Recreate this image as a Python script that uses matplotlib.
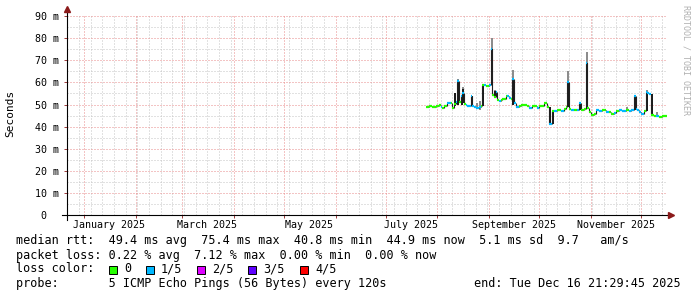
import matplotlib
matplotlib.use("Agg")
import matplotlib.pyplot as plt
import matplotlib.dates as mdates
import matplotlib.transforms as mtrans
import numpy as np
import pandas as pd

# --- data ----------------------------------------------------------------
end_time = pd.Timestamp("2025-12-16 21:29:45")
start_time = end_time - pd.Timedelta(days=360)

dates = [
    "2025-07-25", "2025-07-27", "2025-07-29", "2025-07-31", "2025-08-02", "2025-08-03",
    "2025-08-04", "2025-08-05", "2025-08-07", "2025-08-09", "2025-08-10", "2025-08-11",
    "2025-08-12", "2025-08-13", "2025-08-14", "2025-08-15", "2025-08-16", "2025-08-17",
    "2025-08-18", "2025-08-19", "2025-08-21", "2025-08-22", "2025-08-23", "2025-08-24",
    "2025-08-26", "2025-08-27", "2025-08-28", "2025-08-29", "2025-08-30", "2025-09-01",
    "2025-09-02", "2025-09-03", "2025-09-04", "2025-09-05", "2025-09-06", "2025-09-07",
    "2025-09-08", "2025-09-09", "2025-09-11", "2025-09-12", "2025-09-13", "2025-09-14",
    "2025-09-15", "2025-09-16", "2025-09-17", "2025-09-19", "2025-09-20", "2025-09-22",
    "2025-09-24", "2025-09-25", "2025-09-27", "2025-09-29", "2025-09-30", "2025-10-01",
    "2025-10-02", "2025-10-04", "2025-10-06", "2025-10-07", "2025-10-09", "2025-10-10",
    "2025-10-12", "2025-10-14", "2025-10-16", "2025-10-17", "2025-10-18", "2025-10-19",
    "2025-10-20", "2025-10-22", "2025-10-24", "2025-10-25", "2025-10-26", "2025-10-28",
    "2025-10-29", "2025-10-30", "2025-10-31", "2025-11-01", "2025-11-03", "2025-11-04",
    "2025-11-06", "2025-11-08", "2025-11-10", "2025-11-12", "2025-11-13", "2025-11-15",
    "2025-11-16", "2025-11-18", "2025-11-20", "2025-11-22", "2025-11-24", "2025-11-25",
    "2025-11-27", "2025-11-28", "2025-11-29", "2025-11-30", "2025-12-01", "2025-12-03",
    "2025-12-04", "2025-12-05", "2025-12-06", "2025-12-07", "2025-12-09", "2025-12-10",
    "2025-12-12", "2025-12-14", "2025-12-16",
]
median_ms = [
    48.9, 49.2, 48.8, 49.4, 49.8, 49.0,
    48.6, 49.3, 50.9, 50.7, 48.2, 50.3,
    51.0, 60.5, 51.0, 53.7, 55.0, 50.4,
    50.0, 49.4, 53.7, 49.5, 48.9, 48.6,
    49.0, 49.5, 58.6, 58.8, 58.3, 58.8,
    75.2, 54.5, 53.5, 55.8, 52.2, 51.8,
    52.0, 52.3, 53.8, 54.0, 53.0, 52.6,
    61.6, 50.5, 48.8, 49.5, 49.8, 49.6,
    49.2, 48.5, 49.4, 49.3, 48.6, 49.4,
    49.2, 50.5, 49.0, 41.3, 46.9, 47.2,
    47.7, 47.0, 47.8, 48.8, 60.3, 48.0,
    47.6, 47.3, 47.6, 50.5, 47.5, 48.0,
    68.9, 48.4, 46.6, 45.4, 45.6, 47.3,
    47.0, 47.5, 46.8, 46.4, 45.8, 46.3,
    46.9, 47.3, 46.9, 47.4, 47.2, 47.6,
    53.7, 48.0, 47.5, 46.6, 45.8, 47.0,
    55.5, 55.2, 54.8, 45.2, 44.6, 44.9,
    44.4, 45.0, 44.9,
]
# lost pings out of 5 for each median sample
loss = [
    0, 0, 0, 0, 0, 1,
    0, 0, 1, 0, 0, 0,
    1, 1, 0, 1, 1, 0,
    1, 1, 1, 1, 1, 1,
    1, 0, 0, 1, 0, 1,
    1, 0, 0, 1, 0, 1,
    0, 0, 0, 1, 1, 0,
    1, 1, 1, 0, 0, 0,
    0, 1, 0, 0, 1, 0,
    0, 0, 0, 1, 0, 1,
    0, 1, 0, 0, 1, 0,
    1, 0, 1, 1, 0, 0,
    1, 0, 0, 0, 0, 1,
    1, 0, 1, 0, 0, 1,
    0, 1, 1, 0, 1, 1,
    1, 1, 1, 1, 1, 0,
    1, 1, 1, 0, 0, 1,
    0, 0, 0,
]

# smoke (ping spread): dark part lo..hi, light tip hi..tip
smoke_dates = [
    "2025-08-11", "2025-08-13", "2025-08-15", "2025-08-16", "2025-08-21", "2025-08-24",
    "2025-08-26", "2025-08-28", "2025-09-02", "2025-09-04", "2025-09-15", "2025-10-07",
    "2025-10-09", "2025-10-18", "2025-10-25", "2025-10-29", "2025-11-22", "2025-11-27",
    "2025-12-04", "2025-12-07", "2025-12-10",
]
smoke_lo = [49.5, 49.9, 49.9, 50.6, 50.5, 47.8, 47.6, 49.5, 58.6, 53.0, 50.0, 41.3,
            41.3, 48.8, 47.6, 48.3, 47.2, 47.5, 47.0, 45.2, 44.8]
smoke_hi = [55.2, 60.5, 53.7, 56.8, 53.7, 47.8, 47.6, 58.6, 75.2, 56.0, 61.6, 49.0,
            46.9, 60.3, 50.5, 68.9, 47.2, 53.7, 55.5, 54.8, 44.8]
smoke_tip = [55.2, 61.5, 53.7, 58.0, 53.7, 50.5, 51.5, 58.6, 80.2, 56.5, 65.5, 49.0,
             46.9, 65.1, 50.5, 73.8, 49.0, 54.5, 56.7, 54.8, 46.5]

loss_colors = ["#26ff00", "#00b8ff", "#dd00ff", "#5e00ff", "#ff0000"]
loss_labels = ["0", "1/5", "2/5", "3/5", "4/5"]

label_months = ["2025-01", "2025-03", "2025-05", "2025-07", "2025-09", "2025-11"]
ytick_vals = [0, 10, 20, 30, 40, 50, 60, 70, 80, 90]
ytick_labels = ["0  "] + ["%d m" % v for v in ytick_vals[1:]]

stats_rtt = "median rtt:  49.4 ms avg  75.4 ms max  40.8 ms min  44.9 ms now  5.1 ms sd  9.7   am/s"
stats_loss = "packet loss: 0.22 % avg  7.12 % max  0.00 % min  0.00 % now"
probe_text = "probe:       5 ICMP Echo Pings (56 Bytes) every 120s"
end_text = "end: Tue Dec 16 21:29:45 2025"

# --- figure ---------------------------------------------------------------
mono = "DejaVu Sans Mono"
W, H = 697, 297
fig = plt.figure(figsize=(W / 100, H / 100), dpi=100, facecolor="white")
ax = fig.add_axes([67 / W, (H - 215) / H, 600 / W, 200 / H])
ax.set_facecolor("white")

x = mdates.date2num(pd.to_datetime(dates))
x_end = np.append(x[1:], mdates.date2num(end_time))
vals = np.array(median_ms)

# smoke
sx = mdates.date2num(pd.to_datetime(smoke_dates))
lo = np.array(smoke_lo)
hi = np.array(smoke_hi)
tip = np.array(smoke_tip)
ax.bar(sx, tip - hi, bottom=hi, width=1.2, align="edge", color="#8c8c8c", zorder=3, linewidth=0)
ax.bar(sx, hi - lo, bottom=lo, width=1.2, align="edge", color="#1c1c1c", zorder=3, linewidth=0)

# median line, coloured by loss
ax.vlines(x[1:], vals[:-1], vals[1:], color="#202020", linewidth=0.8, zorder=4)
ax.hlines(vals, x, x_end, colors=[loss_colors[l] for l in loss], linewidth=1.6, zorder=5)

ax.set_xlim(mdates.date2num(start_time), mdates.date2num(end_time))
ax.set_ylim(0, 90.5)

# grid
ax.xaxis.set_major_locator(mdates.MonthLocator())
ax.xaxis.set_minor_locator(mdates.WeekdayLocator(byweekday=mdates.SU))
ax.xaxis.set_major_formatter(plt.NullFormatter())
ax.set_yticks(ytick_vals)
ax.set_yticklabels(ytick_labels, fontfamily=mono, fontsize=7.2)
ax.set_yticks(np.arange(5, 90, 10), minor=True)
ax.grid(which="minor", color="#c4c4c4", linestyle=(0, (1, 2)), linewidth=0.72, zorder=0)
ax.grid(which="major", color="#e88a8a", linestyle=(0, (1, 2)), linewidth=0.72, zorder=1)
ax.set_axisbelow(True)
ax.tick_params(axis="y", which="major", length=2, width=0.72, color="#a04040", pad=3.5)
ax.tick_params(axis="x", which="major", length=2, width=0.72, color="#a04040")
ax.tick_params(which="minor", length=0)

# month labels centred half a month after the month starts
for m in label_months:
    t = pd.Timestamp(m + "-01")
    ax.text(mdates.date2num(t + pd.Timedelta(days=15)), -0.05, t.strftime("%B %Y"),
            transform=mtrans.blended_transform_factory(ax.transData, ax.transAxes),
            ha="center", va="center", fontfamily=mono, fontsize=7.2)

# axes with arrows
for s in ["top", "right", "left", "bottom"]:
    ax.spines[s].set_visible(False)
ax.plot([0, 0], [-0.025, 1.025], color="black", linewidth=0.8, transform=ax.transAxes, clip_on=False, zorder=6)
ax.plot([-0.008, 1.006], [0, 0], color="black", linewidth=0.8, transform=ax.transAxes, clip_on=False, zorder=6)
ax.plot([0], [1.03], marker="^", markersize=4, color="#8b1a1a", transform=ax.transAxes, clip_on=False, zorder=7)
ax.plot([1.007], [0], marker=">", markersize=4, color="#8b1a1a", transform=ax.transAxes, clip_on=False, zorder=7)

fig.text(10 / W, 1 - 113 / H, "Seconds", rotation=90, ha="center", va="center", fontfamily=mono, fontsize=8)
fig.text(686 / W, 1 - 60 / H, "RRDTOOL / TOBI OETIKER", rotation=270, ha="center", va="center",
         fontfamily=mono, fontsize=6, color="#b0b0b0")

# legend / stats
fs = 8.5
fig.text(16 / W, 1 - 240.5 / H, stats_rtt, ha="left", va="center", fontfamily=mono, fontsize=fs)
fig.text(16 / W, 1 - 255 / H, stats_loss, ha="left", va="center", fontfamily=mono, fontsize=fs)
fig.text(16 / W, 1 - 269 / H, "loss color:", ha="left", va="center", fontfamily=mono, fontsize=fs)
box_x = [109, 146, 197, 248, 300]
for bx, c, lab in zip(box_x, loss_colors, loss_labels):
    fig.patches.append(plt.Rectangle((bx / W, 1 - 273.5 / H), 8 / W, 8 / H, transform=fig.transFigure,
                                     facecolor=c, edgecolor="black", linewidth=0.7))
    fig.text((bx + 15) / W, 1 - 269 / H, lab, ha="left", va="center", fontfamily=mono, fontsize=fs)
fig.text(16 / W, 1 - 283.5 / H, probe_text, ha="left", va="center", fontfamily=mono, fontsize=fs)
fig.text(681 / W, 1 - 283.5 / H, end_text, ha="right", va="center", fontfamily=mono, fontsize=fs)

fig.savefig("out.png", dpi=100, facecolor="white")
